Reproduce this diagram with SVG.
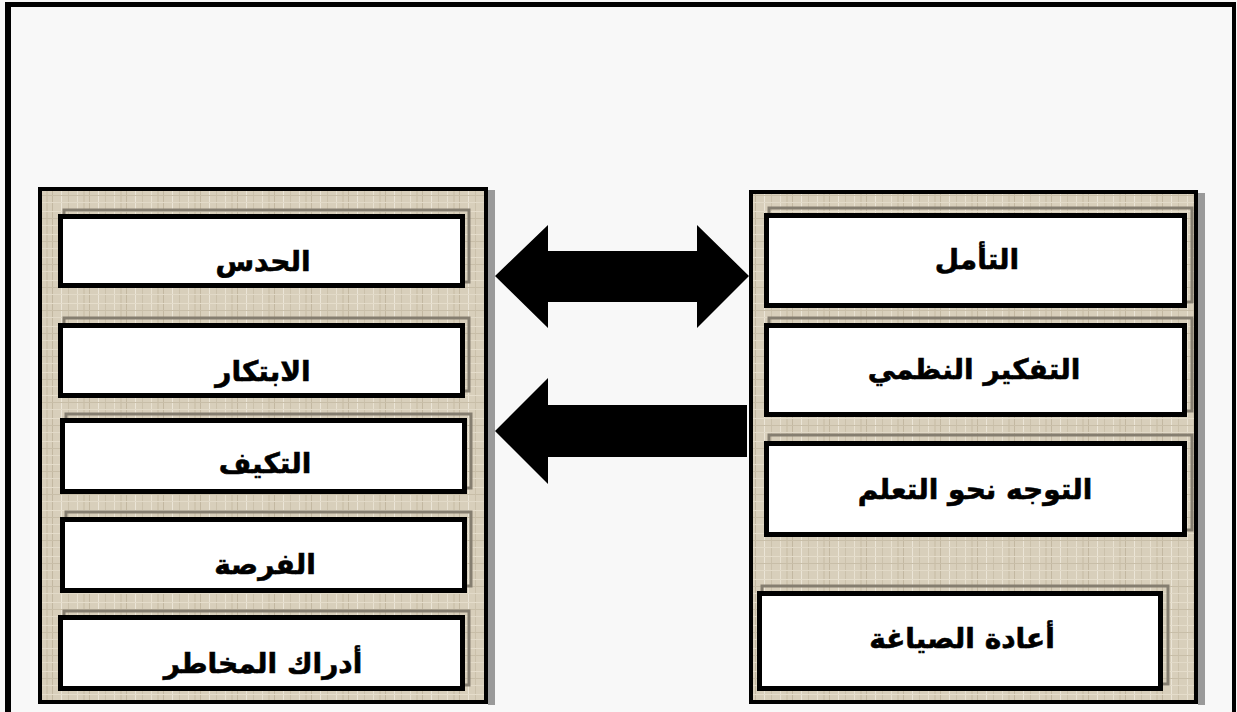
<svg xmlns="http://www.w3.org/2000/svg" width="1237" height="712" viewBox="0 0 1237 712">
<defs>
<pattern id="tex" width="37" height="23" patternUnits="userSpaceOnUse">
<rect width="37" height="23" fill="#d8cfbb"/>
<rect x="3" y="0" width="1" height="23" fill="#e8e1d1"/>
<rect x="9" y="0" width="2" height="23" fill="#cfc5af"/>
<rect x="15" y="0" width="1" height="23" fill="#c3b8a1"/>
<rect x="24" y="0" width="1" height="23" fill="#ebe5d7"/>
<rect x="31" y="0" width="1" height="23" fill="#cbc1ab"/>
<rect x="0" y="4" width="37" height="1" fill="#e5ddcb"/>
<rect x="0" y="11" width="37" height="1" fill="#c8bea8"/>
<rect x="0" y="18" width="37" height="1" fill="#e2dac8"/>
</pattern>
<style>
.panel{fill:url(#tex);stroke:#000;stroke-width:4}
.pshadow{fill:#9a9a9a}
.box{fill:#fff;stroke:#000;stroke-width:5}
.bshadow{fill:none;stroke:#857e70;stroke-width:3}
.lbl{font-family:"DejaVu Sans",sans-serif;font-weight:bold;font-size:28px;fill:#000;text-anchor:middle;direction:rtl;stroke:#000;stroke-width:0.6}
.arrow{fill:#000}
</style>
</defs>
<rect width="1237" height="712" fill="#f8f8f8"/>
<g id="frame">
<rect x="5" y="2" width="6" height="710" fill="#000"/>
<rect x="5" y="2" width="1231" height="5" fill="#000"/>
<rect x="1232" y="2" width="4" height="710" fill="#000"/>
</g>
<g id="panel-left">
<rect class="pshadow" x="488" y="190" width="7" height="515"/>
<rect class="panel" x="40" y="189" width="446" height="513"/>
</g>
<g id="panel-right">
<rect class="pshadow" x="1198" y="193" width="7" height="512"/>
<rect class="panel" x="751" y="192" width="445" height="510"/>
</g>
<g id="n-hads">
<rect class="bshadow" x="64" y="210" width="405" height="72"/>
<rect class="box" x="60.5" y="216.5" width="402" height="69"/>
<text class="lbl" x="263" y="271">الحدس</text>
</g>
<g id="n-ibtikar">
<rect class="bshadow" x="64" y="318" width="405" height="73"/>
<rect class="box" x="60.5" y="325.5" width="402" height="70"/>
<text class="lbl" x="263" y="381">الابتكار</text>
</g>
<g id="n-takayyuf">
<rect class="bshadow" x="66" y="414" width="405" height="74"/>
<rect class="box" x="62.5" y="420.5" width="402" height="71"/>
<text class="lbl" x="265" y="473">التكيف</text>
</g>
<g id="n-fursa">
<rect class="bshadow" x="66" y="512" width="405" height="74"/>
<rect class="box" x="62.5" y="519.5" width="402" height="71"/>
<text class="lbl" x="265" y="574">الفرصة</text>
</g>
<g id="n-idrak">
<rect class="bshadow" x="64" y="611" width="405" height="74"/>
<rect class="box" x="60.5" y="617.5" width="402" height="71"/>
<text class="lbl" x="263" y="673">أدراك المخاطر</text>
</g>
<g id="n-taammul">
<rect class="bshadow" x="769" y="208" width="423" height="94"/>
<rect class="box" x="766.5" y="215.5" width="418" height="90"/>
<text class="lbl" x="977" y="269">التأمل</text>
</g>
<g id="n-tafkir">
<rect class="bshadow" x="769" y="318" width="423" height="93"/>
<rect class="box" x="766.5" y="325.5" width="418" height="89"/>
<text class="lbl" x="974" y="379">التفكير النظمي</text>
</g>
<g id="n-tawajjuh">
<rect class="bshadow" x="769" y="435" width="423" height="95"/>
<rect class="box" x="766.5" y="443.5" width="418" height="91"/>
<text class="lbl" x="975" y="499">التوجه نحو التعلم</text>
</g>
<g id="n-iada">
<rect class="bshadow" x="762" y="586" width="406" height="98"/>
<rect class="box" x="759.5" y="593.5" width="401" height="95"/>
<text class="lbl" x="962" y="648">أعادة الصياغة</text>
</g>
<g id="connectors">
<polygon class="arrow" points="495,276 548,225 548,251 697,251 697,225 749,276 697,328 697,302 548,302 548,328"/>
<polygon class="arrow" points="495,431 548,378 548,405 747,405 747,457 548,457 548,484"/>
</g>
</svg>
